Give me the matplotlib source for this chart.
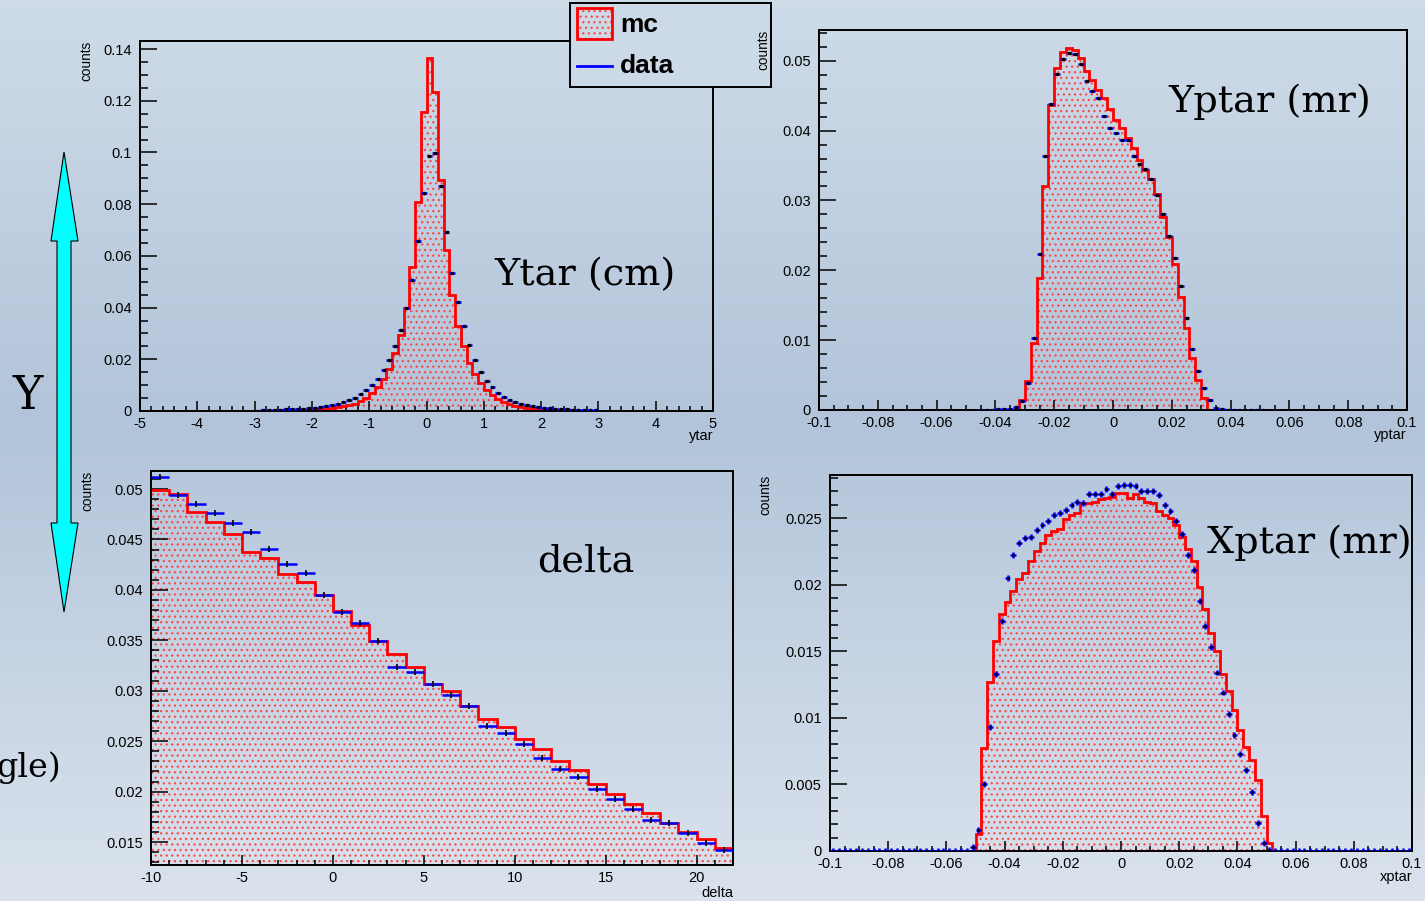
import matplotlib
matplotlib.use("Agg")
import matplotlib.pyplot as plt
import numpy as np
from matplotlib.ticker import MultipleLocator, FuncFormatter
from matplotlib.patches import Polygon, Rectangle
from matplotlib.lines import Line2D

W, H = 1425, 901

# ---- histograms (bin contents, normalised) ----
# ytar: 100 bins on [-5, 5]
ytar_bins = (-5.0, 5.0, 100)
ytar_mc_start = -2.6
ytar_mc = [0.0002, 0.0002, 0.0003, 0.0003, 0.0004, 0.0005, 0.0006, 0.0007, 0.0009, 0.0011,
           0.0014, 0.0018, 0.0022, 0.0028, 0.0037, 0.0050, 0.0068, 0.0092, 0.0122, 0.0162,
           0.0223, 0.0294, 0.0400, 0.0558, 0.0810, 0.1157,
           0.1367, 0.1233, 0.0894, 0.0623, 0.0449, 0.0330, 0.0250, 0.0187, 0.0145, 0.0110,
           0.0081, 0.0063, 0.0047, 0.0036, 0.0028, 0.0021, 0.0016, 0.0012, 0.0010, 0.0008,
           0.0006, 0.0005, 0.0004, 0.0003, 0.0002, 0.0002]
ytar_data_range = (-3.0, 3.0)
ytar_data_start = -3.0
ytar_data = [0.0001, 0.0002, 0.0003, 0.0004, 0.0005, 0.0006, 0.0007, 0.0008, 0.0009, 0.0011,
             0.0013, 0.0015, 0.0018, 0.0022, 0.0027, 0.0033, 0.0041, 0.0052, 0.0065, 0.0080,
             0.0100, 0.0124, 0.0158, 0.0197, 0.0250, 0.0312, 0.0397, 0.0508, 0.0658, 0.0843,
             0.0986, 0.0998, 0.0870, 0.0691, 0.0535, 0.0421, 0.0329, 0.0254, 0.0196, 0.0150,
             0.0116, 0.0092, 0.0070, 0.0054, 0.0044, 0.0035, 0.0028, 0.0023, 0.0019, 0.0015,
             0.0012, 0.0010, 0.0008, 0.0007, 0.0006, 0.0005, 0.0004, 0.0003, 0.0002, 0.0002]

# yptar: 100 bins on [-0.1, 0.1]
yptar_bins = (-0.1, 0.1, 100)
yptar_mc_start = -0.032
yptar_mc = [0.0014, 0.0042, 0.0096, 0.0189, 0.0321, 0.0437, 0.0489, 0.0513, 0.0518, 0.0515,
            0.0504, 0.0486, 0.0472, 0.0458, 0.0447, 0.0431, 0.0415, 0.0404, 0.0389, 0.0375,
            0.0358, 0.0344, 0.0330, 0.0309, 0.0277, 0.0248, 0.0209, 0.0162, 0.0117, 0.0074,
            0.0043, 0.0017]
yptar_data_range = (-0.046, 0.052)
yptar_data_start = -0.046
yptar_data = [0.0, 0.0, 0.0, 0.0001, 0.0001, 0.0002, 0.0005, 0.0013, 0.0039, 0.0103,
              0.0223, 0.0364, 0.0438, 0.0481, 0.0503, 0.0511, 0.0509, 0.0496, 0.0471, 0.0456,
              0.0447, 0.0421, 0.0403, 0.0397, 0.0387, 0.0387, 0.0364, 0.0352, 0.0345, 0.0330,
              0.0308, 0.0280, 0.0249, 0.0217, 0.0177, 0.0131, 0.0088, 0.0056, 0.0031, 0.0014,
              0.0003, 0.0001, 0.0, 0.0, 0.0, 0.0, 0.0, 0.0, 0.0]

# delta: 32 bins on [-10, 22]
delta_bins = (-10.0, 22.0, 32)
delta_mc_start = -10.0
delta_mc = [0.0499, 0.0495, 0.0477, 0.0467, 0.0455, 0.0438, 0.0432, 0.0416, 0.0408, 0.0395,
            0.0379, 0.0365, 0.0349, 0.0336, 0.0324, 0.0307, 0.0300, 0.0285, 0.0272, 0.0264,
            0.0252, 0.0242, 0.0230, 0.0221, 0.0208, 0.0198, 0.0188, 0.0179, 0.0169, 0.0160,
            0.0153, 0.0144]
delta_data_range = (-10.0, 22.0)
delta_data_start = -10.0
delta_data = [0.0512, 0.0494, 0.0485, 0.0476, 0.0466, 0.0457, 0.0441, 0.0426, 0.0417, 0.0395,
              0.0378, 0.0367, 0.0349, 0.0324, 0.0319, 0.0307, 0.0296, 0.0285, 0.0265, 0.0258,
              0.0247, 0.0233, 0.0222, 0.0214, 0.0203, 0.0193, 0.0183, 0.0172, 0.0169, 0.0159,
              0.0149, 0.0142]

# xptar: 100 bins on [-0.1, 0.1]
xptar_bins = (-0.1, 0.1, 100)
xptar_mc_start = -0.050
xptar_mc = [0.0013, 0.0077, 0.0127, 0.0158, 0.0178, 0.0187, 0.0195, 0.0204, 0.0209, 0.0218,
            0.0225, 0.0231, 0.0237, 0.0240, 0.0242, 0.0249, 0.0252, 0.0254, 0.0261, 0.0261,
            0.0262, 0.0264, 0.0265, 0.0266, 0.0269, 0.0269, 0.0265, 0.0268, 0.0265, 0.0262,
            0.0261, 0.0255, 0.0252, 0.0250, 0.0245, 0.0236, 0.0227, 0.0218, 0.0198, 0.0182,
            0.0164, 0.0150, 0.0133, 0.0120, 0.0106, 0.0091, 0.0078, 0.0068, 0.0053, 0.0026,
            0.0006]
xptar_data_range = (-0.1, 0.1)
xptar_data_start = -0.052
xptar_data = [0.0003, 0.0016, 0.0050, 0.0093, 0.0133, 0.0173, 0.0205, 0.0222, 0.0231, 0.0235,
              0.0236, 0.0241, 0.0245, 0.0248, 0.0252, 0.0254, 0.0256, 0.0260, 0.0262, 0.0261,
              0.0268, 0.0268, 0.0268, 0.0272, 0.0268, 0.0274, 0.0275, 0.0275, 0.0274, 0.0270,
              0.0270, 0.0270, 0.0267, 0.0260, 0.0255, 0.0248, 0.0238, 0.0222, 0.0211, 0.0188,
              0.0169, 0.0153, 0.0134, 0.0119, 0.0103, 0.0087, 0.0073, 0.0061, 0.0044, 0.0021,
              0.0006, 0.0001]

MC_RED = (1.0, 0.0, 0.0)
DOT_RED = (1.0, 0.25, 0.25, 0.9)
TICK_FONT = "Liberation Sans"
SERIF = "DejaVu Serif"
plt.rcParams["hatch.linewidth"] = 0.9


def rect_px(x0, y0, x1, y1):
    return [x0 / W, 1 - y1 / H, (x1 - x0) / W, (y1 - y0) / H]


def fpos(x, y):
    return x / W, 1 - y / H


def fill_bins(lo, hi, n, start, vals, rng=None):
    w = (hi - lo) / n
    a, b = (lo, hi) if rng is None else rng
    i_a = int(round((a - lo) / w))
    i_b = int(round((b - lo) / w))
    full = np.zeros(i_b - i_a)
    i0 = int(round((start - a) / w))
    full[i0:i0 + len(vals)] = vals
    centers = a + w * (np.arange(i_b - i_a) + 0.5)
    return full, centers, w


def root_label(v, pos):
    v = round(v, 6)
    if abs(v) < 1e-9:
        return "0"
    return "%g" % v


fmt = FuncFormatter(root_label)

fig = plt.figure(figsize=(W / 100, H / 100), dpi=100)

# slide background
bg = fig.add_axes([0, 0, 1, 1], zorder=-10)
stops_y = np.array([0.0, 0.47, 1.0])
stops_c = np.array([[0.81, 0.86, 0.91], [0.70, 0.77, 0.855], [0.855, 0.89, 0.93]])
yy = np.linspace(0, 1, 400)
grad = np.stack([np.interp(yy, stops_y, stops_c[:, k]) for k in range(3)], axis=1)
bg.imshow(grad[:, None, :], aspect="auto", extent=[0, 1, 1, 0])
bg.set_xlim(0, 1)
bg.set_ylim(1, 0)
bg.axis("off")


def panel(rect, bins, mc_start, mc, drange, dstart, data, ylim,
          xmaj, xmin, ymaj, ymin, yerr, z, centre="s"):
    lo, hi, n = bins
    edges = np.linspace(lo, hi, n + 1)
    ax = fig.add_axes(rect, zorder=z)
    ax.patch.set_alpha(0)
    mc_full, _, w = fill_bins(lo, hi, n, mc_start, mc)
    ax.stairs(mc_full, edges, baseline=0, fill=True, hatch="...",
              facecolor="none", edgecolor=DOT_RED, linewidth=0, zorder=1)
    ax.stairs(mc_full, edges, baseline=None, color=MC_RED, linewidth=2.0, zorder=2)
    dvals, dx, w = fill_bins(lo, hi, n, dstart, data, drange)
    ax.errorbar(dx, dvals, xerr=w / 2, yerr=yerr, fmt="none", ecolor="blue",
                elinewidth=1.8, capsize=0, zorder=4)
    if centre == "|":
        ax.plot(dx, dvals, ls="none", marker="|", ms=4, mew=1.2, color="black", zorder=5)
    elif centre == "s":
        ax.plot(dx, dvals, ls="none", marker="s", ms=1.4, color="black", zorder=5)
    else:
        ax.plot(dx, dvals, ls="none", marker="s", ms=0.9, color="black", zorder=5)
    ax.set_xlim(lo, hi)
    ax.set_ylim(*ylim)
    ax.xaxis.set_major_locator(MultipleLocator(xmaj))
    ax.xaxis.set_minor_locator(MultipleLocator(xmin))
    ax.yaxis.set_major_locator(MultipleLocator(ymaj))
    ax.yaxis.set_minor_locator(MultipleLocator(ymin))
    ax.xaxis.set_major_formatter(fmt)
    ax.yaxis.set_major_formatter(fmt)
    ax.tick_params(axis="y", which="major", direction="in", length=12, width=1.1,
                   pad=6, labelsize=10.5)
    ax.tick_params(axis="y", which="minor", direction="in", length=6, width=1.1)
    ax.tick_params(axis="x", which="major", direction="in", length=7.5, width=1.1,
                   pad=4, labelsize=10.5)
    ax.tick_params(axis="x", which="minor", direction="in", length=3.8, width=1.1)
    for lab in ax.get_xticklabels() + ax.get_yticklabels():
        lab.set_fontfamily(TICK_FONT)
    for s in ax.spines.values():
        s.set_linewidth(1.4)
        s.set_color("black")
    return ax


ax_yt = panel(rect_px(140, 41, 713, 411), ytar_bins, ytar_mc_start, ytar_mc,
              ytar_data_range, ytar_data_start, ytar_data, (0, 0.1431),
              1, 0.2, 0.02, 0.005, 0.0, 1)
ax_yp = panel(rect_px(819, 30, 1407, 410), yptar_bins, yptar_mc_start, yptar_mc,
              yptar_data_range, yptar_data_start, yptar_data, (0, 0.0544),
              0.02, 0.005, 0.01, 0.002, 0.0, 6)
ax_de = panel(rect_px(151, 471, 733, 865), delta_bins, delta_mc_start, delta_mc,
              delta_data_range, delta_data_start, delta_data, (0.01272, 0.05179),
              5, 1, 0.005, 0.001, 0.0, 1, centre="|")
ax_xp = panel(rect_px(830, 475, 1412, 851), xptar_bins, xptar_mc_start, xptar_mc,
              xptar_data_range, xptar_data_start, xptar_data, (0, 0.02823),
              0.02, 0.005, 0.005, 0.001, 0.00022, 1, centre="+")

# axis titles
for (x, y) in [(86, 41), (763, 30), (87, 471), (765, 475)]:
    fig.text(*fpos(x, y), "counts", rotation=90, rotation_mode="anchor",
             ha="right", va="center", fontsize=9.8, family=TICK_FONT, zorder=20)
for (x, y, s) in [(713, 436, "ytar"), (1407, 435, "yptar"),
                  (733, 893, "delta"), (1412, 877, "xptar")]:
    fig.text(*fpos(x, y), s, ha="right", va="center", fontsize=10.5, family=TICK_FONT)

# panel names
for (x, y, s) in [(585, 285, "Ytar (cm)"), (1270, 112, "Yptar (mr)"),
                  (586, 572, "delta"), (1309, 553, "Xptar (mr)")]:
    fig.text(*fpos(x, y), s, ha="center", va="baseline", fontsize=27.5, family=SERIF)

# legend box
lg = fig.add_axes(rect_px(570, 3, 771, 87), zorder=5)
lg.set_facecolor([np.interp(45 / H, stops_y, stops_c[:, k]) for k in range(3)])
lg.set_xlim(0, 201)
lg.set_ylim(84, 0)
lg.set_xticks([])
lg.set_yticks([])
for s in lg.spines.values():
    s.set_linewidth(1.4)
lg.add_patch(Rectangle((7, 5), 35, 31, facecolor="none", edgecolor=DOT_RED,
                       hatch="...", linewidth=0))
lg.add_patch(Rectangle((7, 5), 35, 31, facecolor="none", edgecolor=MC_RED, linewidth=2))
lg.add_line(Line2D([7, 42], [63, 63], color="blue", linewidth=2))
lg.text(50, 22, "mc", ha="left", va="center", fontsize=19, fontweight="bold",
        family=TICK_FONT)
lg.text(50, 63, "data", ha="left", va="center", fontsize=19, fontweight="bold",
        family=TICK_FONT)

# vertical double arrow on the left
arrow_px = [(64, 152), (78, 241), (71, 241), (71, 523), (78, 523), (64, 612),
            (51, 523), (57, 523), (57, 241), (51, 241)]
fig.patches.append(Polygon([fpos(x, y) for x, y in arrow_px], closed=True,
                           facecolor=(0.0, 1.0, 1.0), edgecolor="black", linewidth=0.8,
                           transform=fig.transFigure, figure=fig, zorder=3))
fig.text(*fpos(28, 409), "Y", ha="center", va="baseline", fontsize=33, family=SERIF)
fig.text(*fpos(61, 777), "gle)", ha="right", va="baseline", fontsize=24, family=SERIF)

fig.savefig("out.png", dpi=100)
